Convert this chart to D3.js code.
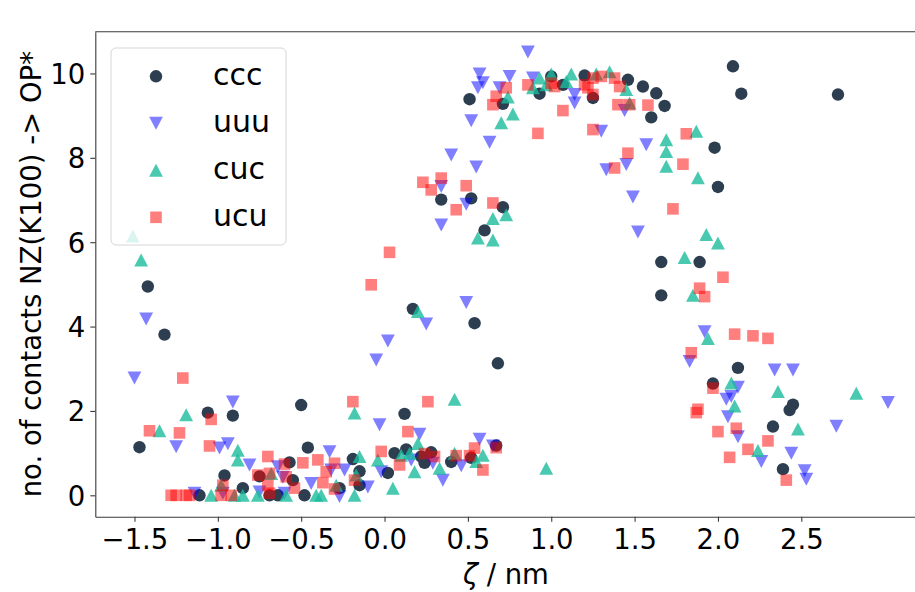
<!DOCTYPE html>
<html>
<head>
<meta charset="utf-8">
<script src="https://cdn.jsdelivr.net/npm/d3@7"></script>
<style>
  html, body { margin: 0; padding: 0; background: #fff; }
  svg { display: block; font-family: "DejaVu Sans", sans-serif; }
</style>
</head>
<body>
<svg id="chart" width="915" height="592"></svg>
<script>
// Contact counts NZ(K100) -> OP* against the reaction coordinate zeta (nm)
const seriesNames = ["ccc", "uuu", "cuc", "ucu"];

const ccc = [
  [-1.47,1.14],[-1.42,4.95],[-1.32,3.81],[-1.06,1.96],[-0.91,1.89],[-0.50,2.14],[-0.46,1.13],
  [-0.96,0.47],[-0.85,0.17],[-1.11,0],[-0.57,0.78],[-0.75,0.45],[-0.69,0],[-0.64,0],[-0.55,0.36],[-0.48,0],
  [-0.19,0.86],[-0.15,0.57],[-0.15,0.24],[-0.27,0.17],[0.02,0.53],[0.06,1.0],[0.13,1.09],[0.12,1.93],
  [0.24,0.77],[0.22,0.92],[0.28,1.02],[0.40,0.79],[0.52,0.89],[0.67,1.18],[0.68,3.13],
  [0.17,4.42],[0.54,4.08],
  [0.34,7.01],[0.52,7.04],[0.71,6.83],[0.60,6.28],
  [0.51,9.39],[0.71,9.28],[0.93,9.52],[1.00,9.93],[1.07,9.73],[1.20,9.95],[1.25,9.42],[1.46,9.85],
  [1.55,9.69],[1.63,9.53],[1.68,9.23],[1.60,8.96],
  [2.09,10.17],[2.14,9.52],[2.72,9.50],[1.98,8.24],[2.00,7.31],[1.66,5.53],[1.89,5.53],[1.66,4.74],
  [2.12,3.02],[1.97,2.65],[2.45,2.15],[2.43,2.02],[2.33,1.63],[2.39,0.62]
];

const uuu = [
  [-1.50,2.78],[-1.43,4.18],[-0.91,2.21],[-1.25,1.15],[-0.99,1.12],[-0.94,1.22],[-0.81,0.72],[-0.64,0.68],[-0.61,0.43],
  [-1.14,0.05],[-0.97,0.05],[-0.75,0.08],[-0.60,0.05],[-0.44,0.28],
  [-0.33,1.03],[-0.32,0.60],[-0.24,0.60],[-0.27,-0.03],[-0.10,0.20],[-0.03,1.67],[0.21,1.45],[-0.02,0.56],
  [0.16,0.84],[0.29,0.76],[0.35,0.36],[0.46,0.70],[0.57,1.33],[0.65,1.17],
  [0.02,3.66],[-0.05,3.21],[0.25,4.06],[0.49,4.57],
  [0.86,10.51],[0.57,9.99],[0.59,9.78],[0.56,9.66],[0.75,9.93],[0.69,9.66],[0.52,8.88],[0.63,8.37],
  [0.40,8.07],[0.55,7.78],[0.34,7.32],[0.49,6.90],[0.34,6.41],
  [0.89,9.89],[1.14,9.50],[1.14,9.30],[1.30,8.63],[1.33,7.72],[1.45,7.84],[1.57,8.31],[1.44,9.12],[1.49,7.07],[1.52,6.24],
  [1.92,3.88],[1.83,3.17],[2.12,2.56],[2.05,2.28],[2.08,2.34],[2.06,1.86],[2.12,1.39],[2.26,0.80],
  [2.34,2.97],[2.45,2.97],[2.44,1.00],[2.52,0.58],[2.53,0.38],[2.71,1.64],[3.02,2.20]
];

const cuc = [
  [-1.51,6.15],[-1.46,5.58],[-1.19,1.91],[-1.35,1.53],[-0.88,1.07],[-0.88,0.84],[-0.68,0.52],[-0.98,0.24],
  [-1.04,0],[-0.90,0],[-0.85,0],[-0.76,0],[-0.59,0],[-0.41,0],
  [-0.38,0],[-0.18,0],[-0.29,0.24],[0.05,0.17],[-0.18,1.95],[-0.15,0.92],[-0.17,0.48],[-0.04,0.84],
  [0.10,0.95],[0.15,1.0],[0.18,0.56],[0.20,1.23],[0.33,0.64],[0.42,2.28],[0.42,1.0],[0.55,0.80],[0.59,0.95],[0.97,0.64],
  [0.20,4.36],
  [0.65,6.56],[0.73,6.65],[0.56,6.10],[0.65,6.05],[0.70,8.83],[0.77,9.04],[0.74,9.44],[0.89,9.66],[0.93,9.89],
  [1.00,9.99],[0.97,9.73],[1.09,9.81],[1.12,9.99],[1.27,9.99],[1.35,10.04],[1.45,9.62],[1.47,9.30],
  [1.69,8.43],[1.69,8.15],[1.69,7.80],[1.87,8.63],[1.88,7.53],[1.93,6.18],[2.00,5.98],[1.80,5.64],[1.85,4.74],
  [1.94,3.72],[2.08,2.66],[2.10,2.12],[2.36,2.46],[2.48,1.57],[2.24,1.06],[2.83,2.42]
];

const ucu = [
  [-1.21,2.78],[-1.41,1.53],[-1.23,1.48],[-1.04,1.80],[-1.05,1.17],[-0.70,0.92],[-0.60,0.74],[-0.49,0.77],[-0.40,0.84],
  [-0.76,0.48],[-0.69,0.52],[-0.70,0.24],[-0.59,0.44],[-0.54,0.17],[-0.97,0.24],
  [-1.28,0],[-1.25,0],[-1.19,0],[-1.17,0],[-0.98,0],[-0.92,0],[-0.69,0.05],
  [-0.30,0.76],[-0.35,0.56],[-0.37,0.30],[-0.30,0.15],[-0.18,0.36],[-0.19,2.22],[0.14,1.51],[-0.02,1.04],
  [0.09,0.72],[0.26,2.22],[0.24,0.99],[0.30,0.92],[0.43,0.94],[0.51,0.94],[0.54,1.12],[0.59,0.60],[0.67,1.13],
  [0.03,5.76],[-0.08,4.99],
  [0.92,8.58],[1.07,9.12],[1.25,8.67],[1.38,7.76],[0.23,7.42],[0.28,7.24],[0.34,7.52],[0.49,7.34],[0.43,6.77],[0.65,6.93],
  [0.65,9.26],[0.67,9.46],[0.73,9.66],[0.86,9.73],[1.00,9.77],[1.02,9.69],[1.20,9.73],[1.25,9.89],[1.30,9.93],
  [1.38,9.89],[1.41,9.69],[1.40,9.26],[1.47,9.26],[1.25,9.50],[1.22,9.66],[1.46,8.11],[1.58,9.25],[1.81,8.57],
  [1.79,7.85],[1.73,6.79],
  [2.03,5.17],[1.89,4.91],[1.92,4.71],
  [2.10,3.82],[2.21,3.78],[2.30,3.72],[1.84,3.38],[1.97,2.54],[1.88,2.04],[1.87,1.96],[2.00,1.51],[2.11,1.59],
  [2.30,1.29],[2.18,1.09],[2.07,0.90],[2.41,0.36]
];

const xTicks = [-1.5, -1.0, -0.5, 0.0, 0.5, 1.0, 1.5, 2.0, 2.5];
const yTicks = [0, 2, 4, 6, 8, 10];
const xLabelSymbol = "ζ";
const xLabelUnit = " / nm";
const yLabel = "no. of contacts NZ(K100) -> OP*";

// Marker styles per series
const styles = {
  ccc: { color: "#2c3e50", opacity: 1.0, shape: "circle" },
  uuu: { color: "#0000ff", opacity: 0.5, shape: "tri-down" },
  cuc: { color: "#1abc9c", opacity: 0.8, shape: "tri-up" },
  ucu: { color: "#ff0000", opacity: 0.5, shape: "square" }
};
const seriesData = { ccc, uuu, cuc, ucu };

const svg = d3.select("#chart");
const frame = { left: 95.3, right: 920.5, top: 31.7, bottom: 516.7 };

const x = d3.scaleLinear().domain([-1.735, 3.215]).range([frame.left, frame.right]);
const y = d3.scaleLinear().domain([-0.507, 10.99]).range([frame.bottom, frame.top]);

function markerPath(shape) {
  if (shape === "circle") return d3.symbol(d3.symbolCircle, Math.PI * 6.2 * 6.2)();
  if (shape === "square") { const h = 5.8; return `M${-h},${-h}H${h}V${h}H${-h}Z`; }
  const w = 6.9, hh = 6.5;
  if (shape === "tri-up") return `M0,${-hh}L${w},${hh}L${-w},${hh}Z`;
  return `M0,${hh}L${w},${-hh}L${-w},${-hh}Z`;
}

const plot = svg.append("g");
seriesNames.forEach(name => {
  const st = styles[name];
  const p = markerPath(st.shape);
  plot.append("g").selectAll("path")
    .data(seriesData[name])
    .join("path")
    .attr("d", p)
    .attr("transform", d => `translate(${x(d[0])},${y(d[1])})`)
    .attr("fill", st.color)
    .attr("fill-opacity", st.opacity);
});

// Axes
const spine = "#3a3a3a";
const fmtX = d3.format(".1f");
const xAxis = svg.append("g")
  .attr("transform", `translate(0,${frame.bottom})`)
  .call(d3.axisBottom(x).tickValues(xTicks).tickFormat(fmtX).tickSize(5).tickSizeOuter(0).tickPadding(8));
const yAxis = svg.append("g")
  .attr("transform", `translate(${frame.left},0)`)
  .call(d3.axisLeft(y).tickValues(yTicks).tickFormat(d3.format("d")).tickSize(5).tickSizeOuter(0).tickPadding(5));

[xAxis, yAxis].forEach(g => {
  g.select(".domain").attr("stroke", spine).attr("stroke-width", 1.1);
  g.selectAll(".tick line").attr("stroke", spine).attr("stroke-width", 1.1);
  g.selectAll(".tick text")
    .attr("fill", "#000")
    .attr("font-family", "DejaVu Sans, sans-serif")
    .attr("font-size", 27.5);
});
yAxis.selectAll(".tick text").attr("dy", "0.36em");

// Top and right spines
svg.append("line")
  .attr("x1", frame.left).attr("x2", frame.right).attr("y1", frame.top).attr("y2", frame.top)
  .attr("stroke", spine).attr("stroke-width", 1.1);
svg.append("line")
  .attr("x1", frame.right).attr("x2", frame.right).attr("y1", frame.top).attr("y2", frame.bottom)
  .attr("stroke", spine).attr("stroke-width", 1.1);

// Axis titles
const xt = svg.append("text")
  .attr("x", (frame.left + frame.right) / 2 - 2).attr("y", 584)
  .attr("text-anchor", "middle")
  .attr("font-size", 27.5);
xt.append("tspan").attr("font-style", "italic").text(xLabelSymbol);
xt.append("tspan").text(xLabelUnit);

svg.append("text")
  .attr("transform", `translate(31,${(frame.top + frame.bottom) / 2}) rotate(-90)`)
  .attr("text-anchor", "middle")
  .attr("dominant-baseline", "central")
  .attr("font-size", 27.5)
  .text(yLabel);

// Legend
const legend = svg.append("g");
legend.append("rect")
  .attr("x", 111).attr("y", 48).attr("width", 175).attr("height", 197)
  .attr("rx", 5).attr("ry", 5)
  .attr("fill", "#fff").attr("fill-opacity", 0.8)
  .attr("stroke", "#d6d6d6").attr("stroke-width", 1);

const rowY = d3.scalePoint().domain(seriesNames).range([76.3, 217.3]);
seriesNames.forEach(name => {
  const st = styles[name];
  legend.append("path")
    .attr("d", markerPath(st.shape))
    .attr("transform", `translate(156,${rowY(name)})`)
    .attr("fill", st.color)
    .attr("fill-opacity", st.opacity);
  legend.append("text")
    .attr("x", 213).attr("y", rowY(name))
    .attr("dy", "0.3em")
    .attr("font-size", 30)
    .text(name);
});
</script>
</body>
</html>
